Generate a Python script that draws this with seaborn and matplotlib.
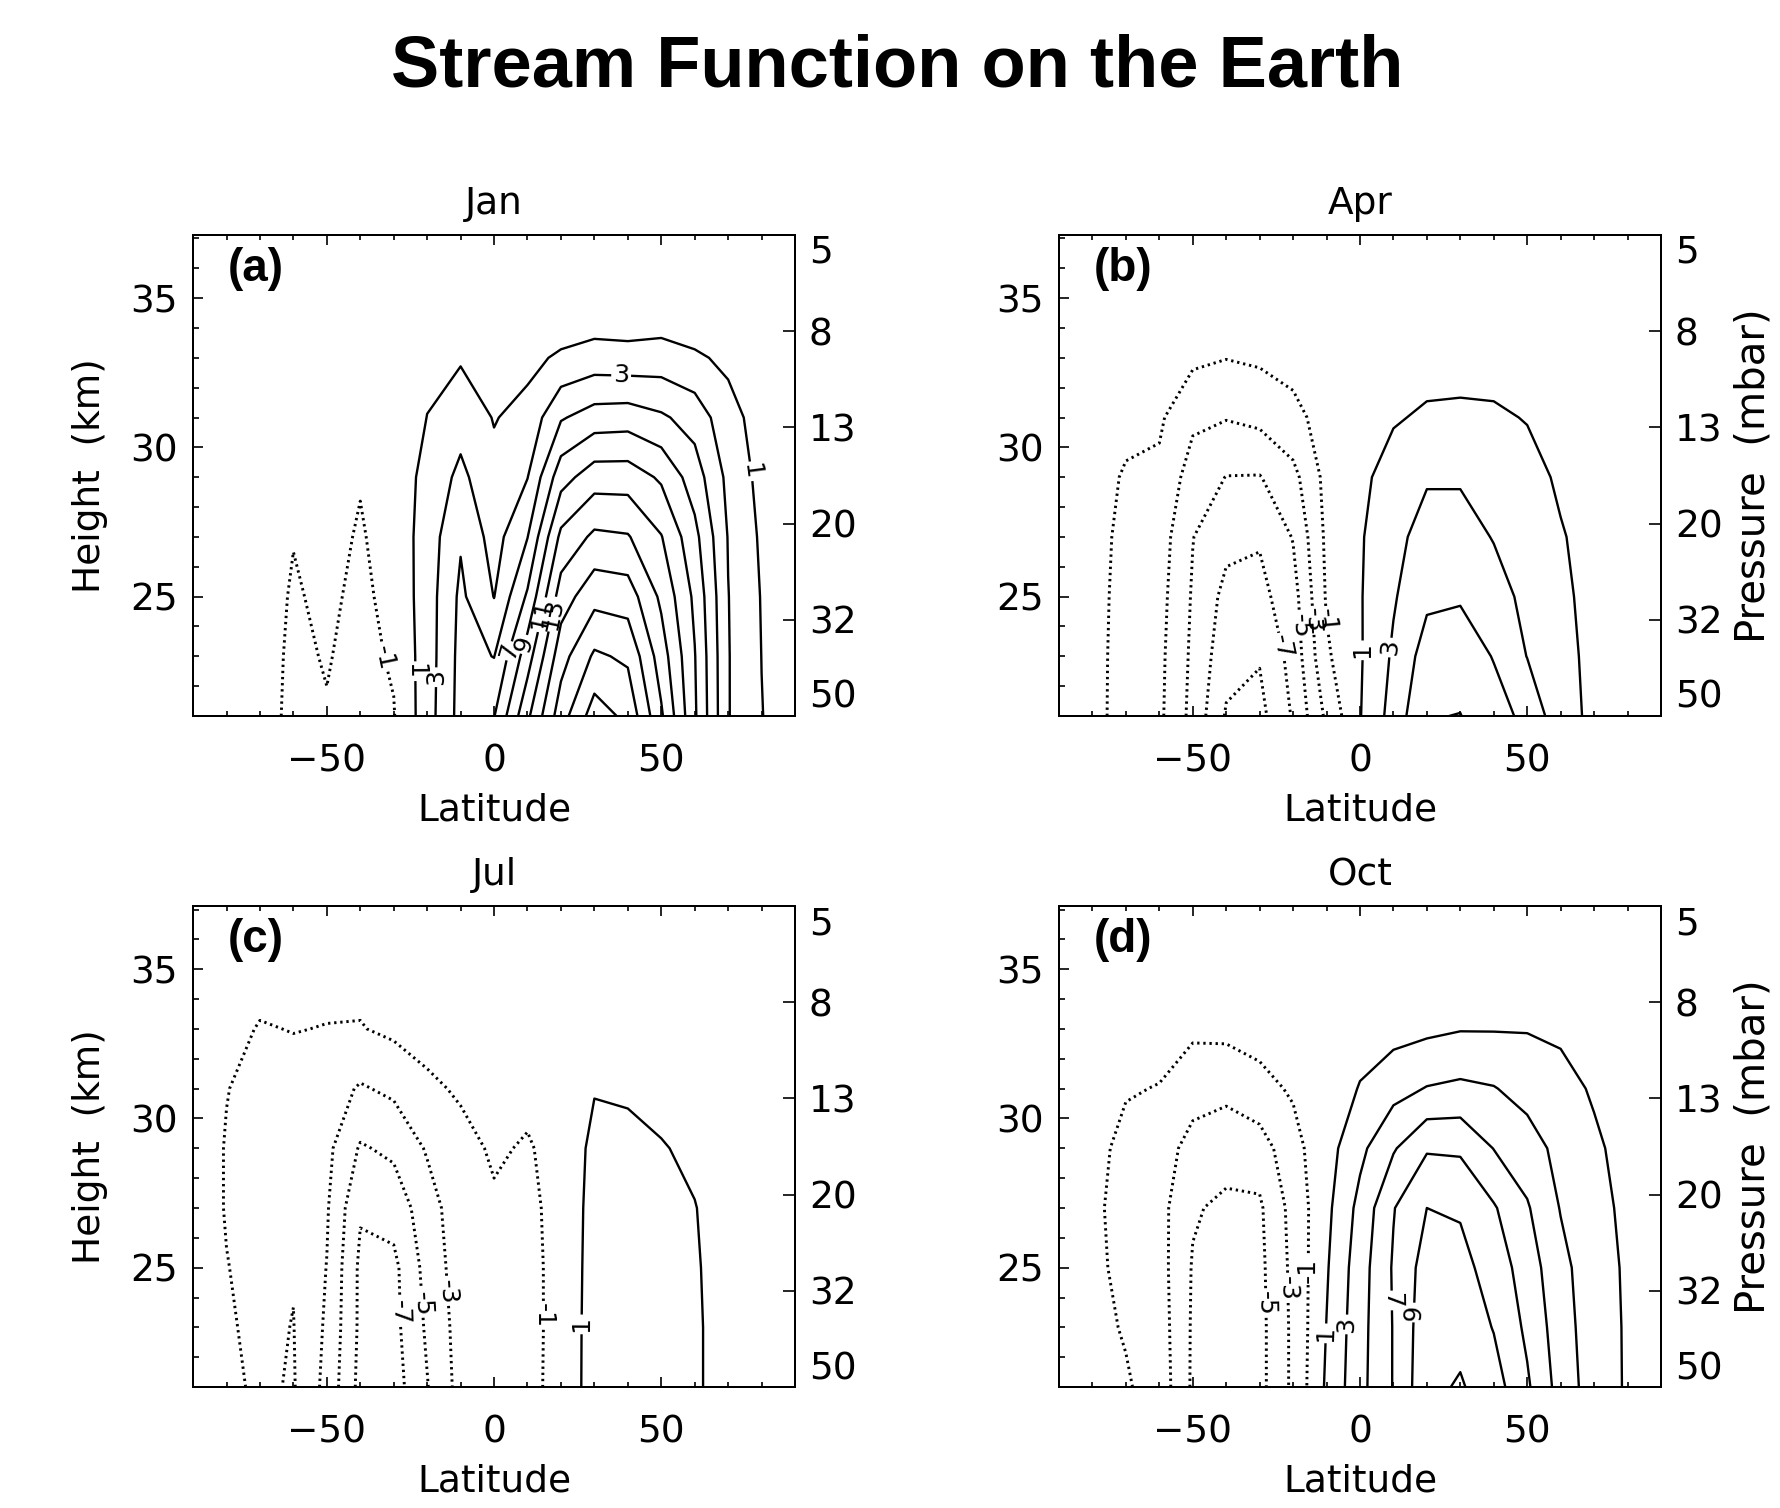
import numpy as np
import matplotlib
matplotlib.use("Agg")
import matplotlib.pyplot as plt
from matplotlib.ticker import MultipleLocator
import seaborn as sns

########################################################
# Data (stream function)
# rows = height levels (km), columns = latitude
########################################################

LATITUDES = [-90, -80, -70, -60, -50, -40, -30, -20, -10, 0,
             10, 20, 30, 40, 50, 60, 70, 80, 90]
HEIGHTS = [21, 23, 25, 27, 29, 31, 33, 35, 37]

JAN_PSI = [
    [0, -0.1, -0.3, -1.4, -1.1, -1.6, -1.1, 2.1, 5.7, 6.9, 12.6, 18.1, 22.0, 20.5, 15.3, 9.3, 3.1, 1.05, 0],
    [0, -0.1, -0.3, -1.3, -0.9, -1.5, -0.8, 2.0, 5.6, 4.95, 10.1, 16.2, 19.33, 18.65, 14.0, 9.1, 3.1, 0.98, 0],
    [0, -0.1, -0.3, -1.15, -0.7, -1.35, -0.5, 2.0, 5.4, 2.95, 7.3, 14.0, 16.33, 16.03, 12.6, 8.6, 3.05, 0.9, 0],
    [0, -0.1, -0.2, -0.95, -0.5, -1.15, -0.3, 1.9, 4.8, 2.2, 4.95, 11.5, 13.41, 13.16, 11.1, 7.6, 2.9, 0.7, 0],
    [0, 0, -0.2, -0.7, -0.4, -0.9, -0.2, 1.6, 3.5, 1.5, 2.95, 8.2, 10.09, 10.09, 8.7, 6.0, 2.5, 0.4, 0],
    [0, 0, -0.1, -0.5, -0.3, -0.6, 0.0, 1.02, 2.2, 0.9, 1.6, 4.8, 5.91, 6.06, 5.3, 4.2, 1.7, 0.2, 0],
    [0, 0, 0, -0.3, -0.2, -0.3, 0.0, 0.7, 0.8, 0.6, 0.5, 1.3, 1.84, 1.7, 1.9, 1.3, 0.6, 0.1, 0],
    [0, 0, 0, -0.1, -0.1, -0.1, 0, 0.3, 0.3, 0.2, -0.4, -0.8, -0.8, -0.8, -0.8, -0.8, -0.5, 0, 0],
    [0, 0, 0, 0, 0, 0, 0, 0.1, 0.1, 0.1, -0.1, -0.3, -0.3, -0.3, -0.3, -0.3, -0.2, 0, 0],
]

APR_PSI = [
    [0, -0.5, -1.64, -2.6, -5.6, -9.2, -9.6, -6.8, -2.6, 0.9, 3.8, 6.9, 7.05, 5.8, 4.49, 1.73, 0.59, 0.2, 0],
    [0, -0.5, -1.6, -2.5, -5.4, -8.3, -8.85, -6.3, -1.3, 0.8, 3.3, 5.9, 6.1, 4.9, 2.95, 1.6, 0.5, 0.2, 0],
    [0, -0.5, -1.5, -2.3, -5.2, -7.6, -7.6, -5.8, -0.8, 0.85, 2.8, 4.6, 4.8, 3.8, 2.5, 1.4, 0.4, 0.15, 0],
    [0, -0.45, -1.4, -2.0, -4.95, -6.4, -6.8, -4.9, -0.6, 0.8, 2.4, 3.8, 3.8, 2.9, 2.1, 1.15, 0.3, 0.1, 0],
    [0, -0.4, -1.15, -1.4, -3.9, -5.05, -5.1, -3.6, -0.4, 0.5, 1.9, 2.8, 2.8, 2.3, 1.7, 0.7, 0.2, 0.1, 0],
    [0, -0.3, -0.6, -0.7, -2.6, -2.9, -2.5, -1.5, -0.3, 0.1, 0.8, 1.3, 1.4, 1.3, 0.9, 0.3, 0.1, 0, 0],
    [0, -0.2, -0.3, -0.4, -0.6, -0.95, -0.7, -0.4, -0.2, 0, 0.2, 0.2, 0.2, 0.2, 0.1, 0.1, 0, 0, 0],
    [0, -0.1, -0.1, -0.2, -0.3, -0.4, -0.3, -0.2, -0.1, 0, 0, 0, 0, 0, 0, 0, 0, 0, 0],
    [0, 0, 0, 0, -0.1, -0.1, -0.1, 0, 0, 0, 0, 0, 0, 0, 0, 0, 0, 0, 0],
]

JUL_PSI = [
    [0, -0.6, -1.3, -0.85, -3.6, -7.6, -7.9, -5.1, -2.3, -1.6, -1.5, -0.4, 1.9, 1.9, 1.8, 1.2, 0.4, 0.1, 0],
    [0, -0.8, -1.4, -0.95, -3.3, -7.4, -7.6, -4.7, -2.2, -1.6, -1.5, -0.45, 1.9, 1.9, 1.75, 1.2, 0.4, 0.1, 0],
    [0, -0.95, -1.5, -1.1, -3.05, -7.4, -7.5, -4.3, -2.0, -1.5, -1.45, -0.5, 1.85, 1.85, 1.65, 1.15, 0.35, 0.1, 0],
    [0, -1.1, -1.6, -1.3, -2.8, -6.8, -6.2, -3.9, -1.8, -1.2, -1.35, -0.5, 1.75, 1.7, 1.45, 1.05, 0.3, 0.1, 0],
    [0, -1.1, -1.6, -1.5, -2.5, -5.2, -4.6, -2.8, -1.5, -0.8, -1.15, -0.4, 1.5, 1.4, 1.1, 0.7, 0.2, 0.05, 0],
    [0, -0.95, -1.5, -1.6, -2.1, -3.2, -2.6, -1.3, -0.8, -0.4, -0.6, -0.2, 0.9, 0.8, 0.5, 0.3, 0.1, 0, 0],
    [0, -0.5, -1.1, -0.95, -1.05, -1.1, -0.6, -0.4, -0.3, -0.2, -0.2, -0.1, 0.3, 0.2, 0.1, 0, 0, 0, 0],
    [0, -0.2, -0.4, -0.4, -0.5, -0.4, -0.3, -0.1, -0.1, 0, 0, 0, 0, 0, 0, 0, 0, 0, 0],
    [0, 0, -0.1, -0.1, -0.1, -0.1, 0, 0, 0, 0, 0, 0, 0, 0, 0, 0, 0, 0, 0],
]

OCT_PSI = [
    [0, -0.3, -0.8, -1.8, -5.3, -5.8, -5.6, -2.6, 1.3, 4.4, 7.1, 10.5, 11.2, 9.9, 7.3, 4.2, 2.0, 0.8, 0],
    [0, -0.5, -1.15, -2.0, -5.25, -5.8, -5.6, -2.6, 1.05, 4.3, 7.1, 10.3, 10.4, 8.9, 6.6, 3.9, 1.9, 0.8, 0],
    [0, -0.7, -1.35, -2.2, -5.15, -5.7, -5.5, -2.5, 0.8, 4.1, 7.2, 9.9, 9.6, 8.2, 6.0, 3.6, 1.8, 0.75, 0],
    [0, -0.75, -1.45, -2.3, -4.8, -5.4, -5.3, -2.3, 0.5, 3.6, 6.9, 9.0, 8.8, 7.2, 5.2, 2.9, 1.6, 0.6, 0],
    [0, -0.6, -1.35, -2.2, -3.6, -4.2, -4.0, -1.6, 0.2, 2.5, 4.8, 6.8, 6.7, 4.95, 3.9, 2.4, 1.3, 0.4, 0],
    [0, -0.4, -0.9, -1.05, -2.3, -2.5, -1.5, -0.8, -0.1, 1.1, 2.3, 3.1, 3.4, 3.1, 2.3, 1.6, 0.8, 0.2, 0],
    [0, -0.2, -0.4, -0.5, -0.6, -0.5, -0.4, -0.2, -0.05, 0.3, 0.3, 0.6, 0.9, 0.9, 0.9, 0.7, 0.3, 0.1, 0],
    [0, -0.1, -0.1, -0.2, -0.2, -0.2, -0.1, 0, 0, 0, 0, 0, 0, 0, 0, 0, 0, 0, 0],
    [0, 0, 0, 0, 0, 0, 0, 0, 0, 0, 0, 0, 0, 0, 0, 0, 0, 0, 0],
]

NEG_LEVELS = [-9, -7, -5, -3, -1]
POS_LEVELS = [1, 3, 5, 7, 9, 11, 13, 15, 17, 19, 21]

PRESSURE_LEVELS = [50, 31.55, 19.91, 12.56, 7.92, 5.0]
PRESSURE_LABELS = ["50", "32", "20", "13", "8", "5"]

MONTHS = ["Jan", "Apr", "Jul", "Oct"]
TAGS = ["(a)", "(b)", "(c)", "(d)"]

# where the contour labels sit (nearest contour gets the label)
NEG_LABEL_SPOTS = [
    [(-31, 23.0)],
    [(-24, 23.3), (-18, 24.0), (-14, 24.2), (-10, 24.2)],
    [(-26.7, 23.5), (-21.6, 23.8), (-13.9, 24.2), (14.2, 23.4)],
    [(-27.5, 23.8), (-21.3, 24.3), (-15.5, 24.9)],
]
POS_LABEL_SPOTS = [
    [(-25, 22.5), (-17.5, 22.3), (38, 32.4), (77, 29.2), (4, 23.2), (9, 23.4), (14, 24.4), (18, 24.4)],
    [(0.8, 23.2), (8.5, 23.3)],
    [(25.5, 23.1)],
    [(-10.5, 22.8), (-4.5, 23.1), (9, 23.9), (15.5, 23.5)],
]

SCALE_HEIGHT = 7.0
BASE_HEIGHT = 21.0


def pressure_to_height(p):
    return BASE_HEIGHT + SCALE_HEIGHT * np.log(50.0 / np.asarray(p))


########################################################
# Style
########################################################

sns.set_theme(style="white")
plt.rcParams['font.family'] = ['DejaVu Sans']
plt.rcParams['axes.edgecolor'] = 'black'
plt.rcParams['axes.linewidth'] = 1.4
plt.rcParams['text.color'] = 'black'
plt.rcParams['axes.labelcolor'] = 'black'
plt.rcParams['xtick.color'] = 'black'
plt.rcParams['ytick.color'] = 'black'

TICK_SIZE = 27
LINE_W = 1.7
DOT_W = 2.1

########################################################
# Figure
########################################################

fig = plt.figure(figsize=(17.81, 15.08), dpi=100)

AX_W, AX_H = 0.338, 0.319
ORIGINS = [(0.1084, 0.5252), (0.5946, 0.5252), (0.1084, 0.0802), (0.5946, 0.0802)]
FIELDS = [JAN_PSI, APR_PSI, JUL_PSI, OCT_PSI]

y_top = float(pressure_to_height(5.0))

for i, (x0, y0) in enumerate(ORIGINS):
    ax = fig.add_axes([x0, y0, AX_W, AX_H])
    psi = np.array(FIELDS[i])

    cs_neg = ax.contour(LATITUDES, HEIGHTS, psi, levels=NEG_LEVELS, colors='black',
                        linewidths=DOT_W, linestyles=[(0, (0.8, 1.3))])
    cs_pos = ax.contour(LATITUDES, HEIGHTS, psi, levels=POS_LEVELS, colors='black',
                        linewidths=LINE_W, linestyles='solid')
    ax.clabel(cs_neg, manual=NEG_LABEL_SPOTS[i], fmt='%d', fontsize=18, inline=True, inline_spacing=2)
    ax.clabel(cs_pos, manual=POS_LABEL_SPOTS[i], fmt='%d', fontsize=18, inline=True, inline_spacing=2)

    ax.set_xlim(-90, 90)
    ax.set_ylim(BASE_HEIGHT, y_top)
    ax.xaxis.set_major_locator(MultipleLocator(50))
    ax.xaxis.set_minor_locator(MultipleLocator(10))
    ax.yaxis.set_major_locator(MultipleLocator(5))
    ax.yaxis.set_minor_locator(MultipleLocator(1))
    ax.tick_params(which='both', direction='in', top=True, bottom=True, left=True, right=False,
                   width=1.2, labelsize=TICK_SIZE)
    ax.tick_params(axis='x', which='major', length=7, pad=20)
    ax.tick_params(axis='x', which='minor', length=3.5)
    ax.tick_params(axis='y', which='major', length=7, pad=11)
    ax.tick_params(axis='y', which='minor', length=4)

    ax.set_title(MONTHS[i], fontsize=TICK_SIZE, pad=15)
    ax.set_xlabel("Latitude", fontsize=TICK_SIZE, labelpad=9)
    if i % 2 == 0:
        ax.set_ylabel("Height  (km)", fontsize=TICK_SIZE, labelpad=16)

    ax.text(0.058, 0.93, TAGS[i], transform=ax.transAxes, fontsize=33,
            fontweight='bold', family='Liberation Sans', ha='left', va='center')

    # pressure axis on the right
    ax2 = ax.twinx()
    ax2.set_ylim(ax.get_ylim())
    ax2.set_yticks(pressure_to_height(PRESSURE_LEVELS))
    ax2.set_yticklabels(PRESSURE_LABELS)
    ax2.tick_params(axis='y', direction='in', length=8.5, width=1.2, pad=10, labelsize=TICK_SIZE)
    ax2.grid(False)
    labels = ax2.get_yticklabels()
    labels[0].set_va('bottom')
    labels[-1].set_va('top')
    if i % 2 == 1:
        ax2.set_ylabel("Pressure  (mbar)", fontsize=29, labelpad=8)

fig.text(0.5037, 0.955, "Stream Function on the Earth", fontsize=52, fontweight='bold',
         family='Liberation Sans', ha='center', va='center')

fig.savefig("out.png", dpi=100)
